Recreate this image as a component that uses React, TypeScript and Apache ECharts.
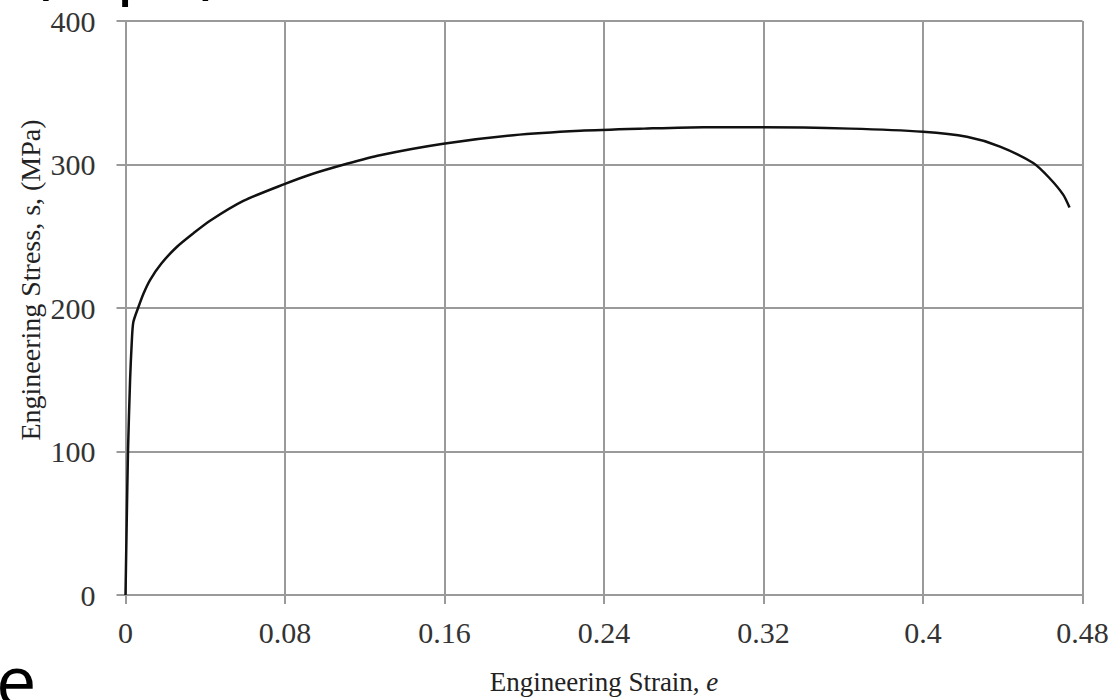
import React, { useEffect, useRef } from "react";
import * as echarts from "echarts";

const strain = [0, 0.0006, 0.00125, 0.0023, 0.0031, 0.0039, 0.0063, 0.009, 0.0123, 0.018, 0.0257, 0.034, 0.0424, 0.0591, 0.08, 0.0925, 0.111, 0.1276, 0.1594, 0.1945, 0.228, 0.26, 0.29, 0.32, 0.3634, 0.4, 0.422, 0.4386, 0.4553, 0.4634, 0.4703, 0.4735];
const stress = [0, 50, 100, 150, 175, 190, 200, 210, 219.5, 231, 242.5, 252, 260.8, 274.6, 286.5, 292.9, 300.5, 306.5, 314.5, 320.4, 323.5, 325, 326, 326, 325, 322.8, 319.3, 312.5, 301, 290.6, 279, 270];
const xTicks = [0, 0.08, 0.16, 0.24, 0.32, 0.4, 0.48];
const yTicks = [0, 100, 200, 300, 400];
const xTitle = "Engineering Strain, ";
const yTitle = "Engineering Stress, s, (MPa)";

export default function App() {
  const ref = useRef<HTMLDivElement>(null);
  useEffect(() => {
    if (!ref.current) return;
    const chart = echarts.init(ref.current, null, { renderer: "svg" });
    const gridColor = "#9a9a9a";
    chart.setOption({
      animation: false,
      backgroundColor: "#ffffff",
      grid: { left: 125.5, right: 33.5, top: 21, bottom: 97.7, containLabel: false },
      xAxis: {
        type: "value",
        min: xTicks[0],
        max: xTicks[xTicks.length - 1],
        interval: 0.08,
        name: xTitle + "{i|e}",
        nameLocation: "middle",
        nameGap: 73,
        nameTextStyle: {
          fontFamily: "Liberation Serif",
          fontSize: 27,
          color: "#222",
          rich: { i: { fontFamily: "Liberation Serif", fontStyle: "italic", fontSize: 27, color: "#222" } },
        },
        axisLine: { show: true, lineStyle: { color: gridColor, width: 2 } },
        axisTick: { show: true, inside: false, length: 9, lineStyle: { color: gridColor, width: 2 } },
        splitLine: { show: true, lineStyle: { color: gridColor, width: 2 } },
        axisLabel: {
          margin: 22,
          fontFamily: "Liberation Serif",
          fontSize: 30,
          color: "#333",
          formatter: (v: number) => {
            const t = xTicks.find((k) => Math.abs(k - v) < 1e-9);
            return t === undefined ? "" : String(t);
          },
        },
      },
      yAxis: {
        type: "value",
        min: yTicks[0],
        max: yTicks[yTicks.length - 1],
        interval: 100,
        axisLine: { show: true, lineStyle: { color: gridColor, width: 2 } },
        axisTick: { show: true, inside: false, length: 9, lineStyle: { color: gridColor, width: 2 } },
        splitLine: { show: true, lineStyle: { color: gridColor, width: 2 } },
        axisLabel: {
          margin: 30,
          fontFamily: "Liberation Serif",
          fontSize: 30,
          color: "#333",
        },
      },
      graphic: [
        {
          type: "text",
          x: 30,
          y: 280,
          rotation: Math.PI / 2,
          style: {
            text: yTitle,
            fontFamily: "Liberation Serif",
            fontSize: 28,
            fill: "#222",
            align: "center",
            verticalAlign: "middle",
          },
        },
        {
          type: "text",
          x: 30,
          y: -38,
          style: {
            text: "(Mpa)",
            fontFamily: "Open Sans",
            fontSize: 72,
            fill: "#000",
            align: "left",
            verticalAlign: "middle",
          },
        },
        {
          type: "text",
          x: -4,
          y: 679,
          style: {
            text: "e",
            fontFamily: "Open Sans",
            fontSize: 72,
            fill: "#000",
            align: "left",
            verticalAlign: "middle",
          },
        },
      ],
      series: [
        {
          type: "line",
          data: strain.map((s, i) => [s, stress[i]]),
          showSymbol: false,
          smooth: 0.25,
          lineStyle: { color: "#111", width: 2.5 },
        },
      ],
    });
    return () => chart.dispose();
  }, []);
  return (
    <div
      ref={ref}
      style={{ position: "fixed", left: 0, top: 0, width: 1116, height: 700, background: "#fff" }}
    />
  );
}
